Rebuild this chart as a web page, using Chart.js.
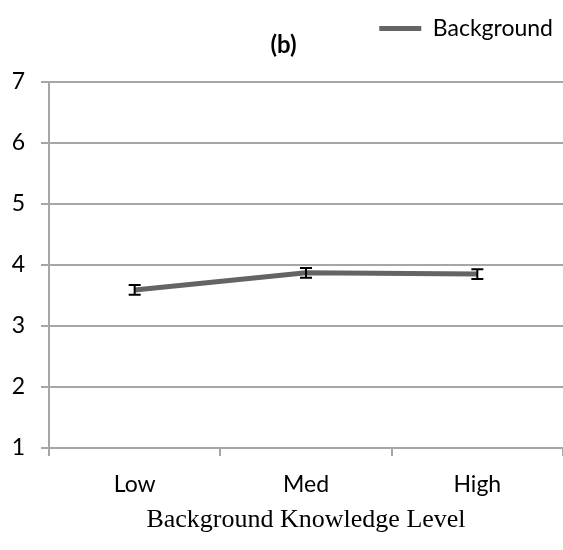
<!DOCTYPE html>
<html>
<head>
<meta charset="utf-8">
<script src="https://cdn.jsdelivr.net/npm/chart.js@4"></script>
<style>
  html, body { margin: 0; padding: 0; background: #fff; }
  #wrap { width: 563px; height: 550px; }
</style>
</head>
<body>
<div id="wrap"><canvas id="chart"></canvas></div>
<script>
'use strict';

const LEVELS = ['Low', 'Med', 'High'];
const MEANS  = [3.59, 3.87, 3.85];
const ERRORS = [0.08, 0.08, 0.08];
const Y_TICKS = [1, 2, 3, 4, 5, 6, 7];

const LINE_GRAY = '#646464';
const GRID_GRAY = '#a6a6a6';
const UI_FONT = "Lato, 'Open Sans', sans-serif";

/* ── Error bars drawn through the y scale ──────────── */
const errorBars = {
    id: 'errorBars',
    afterDatasetsDraw(chart) {
        const { ctx, scales: { x, y } } = chart;
        ctx.save();
        ctx.strokeStyle = '#000';
        ctx.lineWidth = 2;
        MEANS.forEach((m, i) => {
            const px = x.getPixelForValue(i);
            const top = y.getPixelForValue(m + ERRORS[i]);
            const bot = y.getPixelForValue(m - ERRORS[i]);
            ctx.beginPath();
            ctx.moveTo(px, top); ctx.lineTo(px, bot);
            ctx.moveTo(px - 6, top); ctx.lineTo(px + 6, top);
            ctx.moveTo(px - 6, bot); ctx.lineTo(px + 6, bot);
            ctx.stroke();
        });
        ctx.restore();
    }
};

/* ── nudge legend left a little, like the original ─── */
const legendShift = {
    id: 'legendShift',
    afterLayout(chart) {
        if (!chart.legend) return;
        chart.legend.left -= 10;
        chart.legend.right -= 10;
    }
};

new Chart(document.getElementById('chart'), {
    type: 'line',
    data: {
        labels: LEVELS,
        datasets: [{
            label: 'Background',
            data: MEANS,
            borderColor: LINE_GRAY,
            backgroundColor: LINE_GRAY,
            borderWidth: 5,
            pointRadius: 0,
            tension: 0,
        }]
    },
    options: {
        responsive: true, maintainAspectRatio: false,
        animation: false,
        layout: { padding: { left: 0, right: -4, top: 13, bottom: 0 } },
        plugins: {
            legend: {
                position: 'top', align: 'end', weight: 3000,
                labels: {
                    color: '#000',
                    font: { family: UI_FONT, size: 23 },
                    boxWidth: 42, boxHeight: 5,
                    padding: 4,
                    generateLabels: chart => chart.data.datasets.map((ds, i) => ({
                        text: ds.label, fillStyle: LINE_GRAY, strokeStyle: LINE_GRAY,
                        lineWidth: 0, datasetIndex: i, fontColor: '#000'
                    }))
                }
            },
            title: {
                display: true, text: '(b)', color: '#000',
                font: { family: UI_FONT, size: 24, weight: 'bold' },
                padding: { top: -19, bottom: 22 }
            },
            tooltip: { enabled: false }
        },
        scales: {
            x: {
                offset: true,
                afterFit: s => { s.height = 102; },
                grid: { display: true, drawOnChartArea: false, offset: true, tickLength: 8, color: GRID_GRAY, lineWidth: 2 },
                border: { color: GRID_GRAY, width: 2 },
                ticks: { color: '#000', font: { family: UI_FONT, size: 23 }, padding: 15 },
                title: {
                    display: true, text: 'Background Knowledge Level', color: '#000',
                    font: { family: "'Liberation Serif', 'DejaVu Serif', serif", size: 26 },
                    padding: { top: 0, bottom: 14 }
                }
            },
            y: {
                min: 1, max: 7,
                afterFit: s => { s.width = 49; },
                afterBuildTicks: axis => { axis.ticks = Y_TICKS.map(v => ({ value: v })); },
                grid: { color: GRID_GRAY, lineWidth: 2, tickLength: 8 },
                border: { color: GRID_GRAY, width: 2 },
                ticks: { color: '#000', font: { family: UI_FONT, size: 23 }, padding: 16 }
            }
        }
    },
    plugins: [errorBars, legendShift]
});
</script>
</body>
</html>
